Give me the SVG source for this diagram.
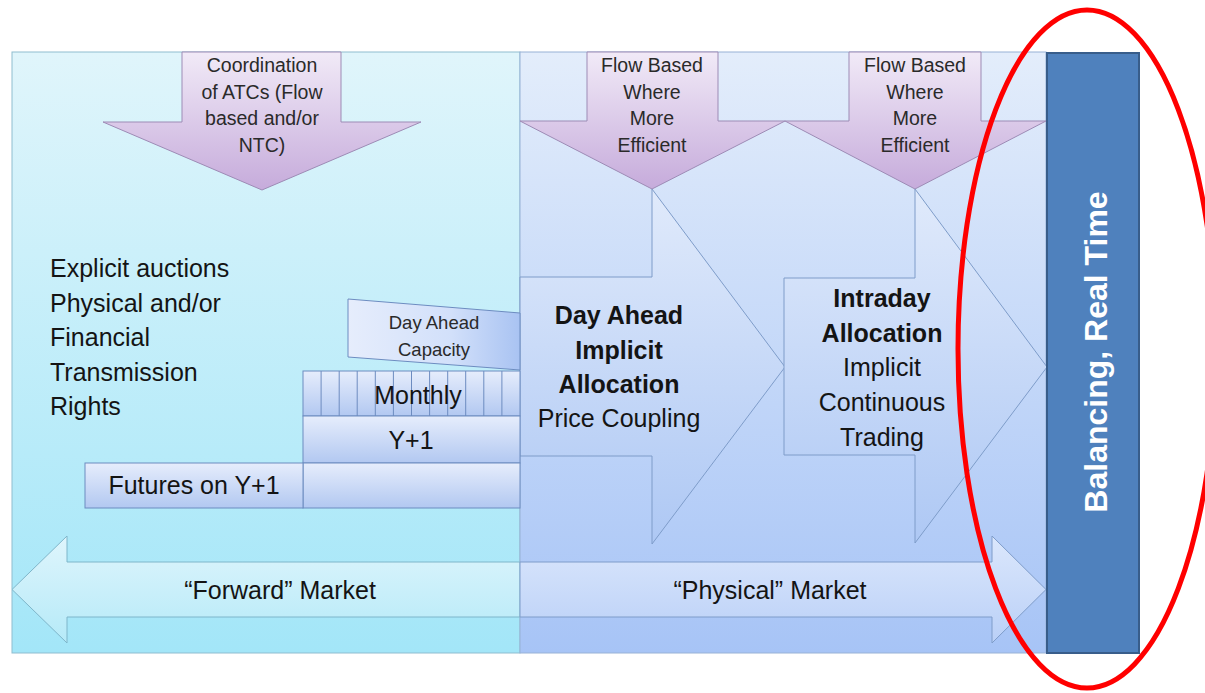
<svg xmlns="http://www.w3.org/2000/svg" width="1205" height="693" viewBox="0 0 1205 693">
<defs>
<linearGradient id="gLeft" x1="0" y1="0" x2="0" y2="1"><stop offset="0" stop-color="#e0f5fb"/><stop offset="1" stop-color="#a3e6f8"/></linearGradient>
<linearGradient id="gRight" x1="0" y1="0" x2="0" y2="1"><stop offset="0" stop-color="#e3edfb"/><stop offset="1" stop-color="#a7c4f6"/></linearGradient>
<linearGradient id="gArrow" x1="0" y1="0" x2="0" y2="1"><stop offset="0" stop-color="#e0eafb"/><stop offset="1" stop-color="#aec8f4"/></linearGradient>
<linearGradient id="gDown" x1="0" y1="0" x2="0" y2="1"><stop offset="0" stop-color="#f1eaf7"/><stop offset="1" stop-color="#c6abdb"/></linearGradient>
<linearGradient id="gBox" x1="0" y1="0" x2="0" y2="1"><stop offset="0" stop-color="#e6edfc"/><stop offset="1" stop-color="#b2c8f1"/></linearGradient>
<linearGradient id="gCap" x1="0" y1="0" x2="1" y2="0"><stop offset="0" stop-color="#e6edfc"/><stop offset="0.6" stop-color="#d2e0fa"/><stop offset="1" stop-color="#a9c3f2"/></linearGradient>
<linearGradient id="gFwd" x1="0" y1="0" x2="0" y2="1"><stop offset="0" stop-color="#dff5fc"/><stop offset="1" stop-color="#b5eaf8"/></linearGradient>
<linearGradient id="gPhys" x1="0" y1="0" x2="0" y2="1"><stop offset="0" stop-color="#dbe7fc"/><stop offset="1" stop-color="#bad0f7"/></linearGradient>
</defs>
<style>
text{font-family:"Liberation Sans",Arial,sans-serif;fill:#141414}
.big{font-size:25px}
.mid{font-size:19.5px;fill:#2a2a2a}
.sm{font-size:18.5px;fill:#2a2a2a}
.c{text-anchor:middle}
.b{font-weight:bold}
.arrow{fill:url(#gArrow);stroke:#7e9cc9;stroke-width:1}
.down{fill:url(#gDown);stroke:#9d8bb5;stroke-width:1}
.box{fill:url(#gBox);stroke:#6d8cc0;stroke-width:1}
.sep{stroke:#6d8cc0;stroke-width:1}
</style>

<g id="panel-forward">
<rect x="12" y="52" width="508" height="601" fill="url(#gLeft)" stroke="#8fbdd0" stroke-width="1"/>
</g>
<g id="panel-physical">
<rect x="520" y="52" width="526" height="601" fill="url(#gRight)" stroke="#98b2d6" stroke-width="1"/>
</g>

<g id="day-ahead-allocation">
<polygon class="arrow" points="520,277 652,277 652,189 785,367 652,544 652,456 520,456"/>
<text class="big c b" x="619" y="324">Day Ahead</text>
<text class="big c b" x="619" y="359">Implicit</text>
<text class="big c b" x="619" y="393">Allocation</text>
<text class="big c" x="619" y="427">Price Coupling</text>
</g>

<g id="intraday-allocation">
<polygon class="arrow" points="784,278 915,278 915,189 1047,367 915,543 915,455 784,455"/>
<text class="big c b" x="882" y="307">Intraday</text>
<text class="big c b" x="882" y="342">Allocation</text>
<text class="big c" x="882" y="376">Implicit</text>
<text class="big c" x="882" y="411">Continuous</text>
<text class="big c" x="882" y="446">Trading</text>
</g>

<g id="coordination-atc">
<polygon class="down" points="182,52 341,52 341,122 421,122 262,190 103,122 182,122"/>
<text class="mid c" x="262" y="72">Coordination</text>
<text class="mid c" x="262" y="99">of ATCs (Flow</text>
<text class="mid c" x="262" y="125">based and/or</text>
<text class="mid c" x="262" y="152">NTC)</text>
</g>

<g id="flow-based-1">
<polygon class="down" points="587,52 718,52 718,121 785,121 652,189 520,121 587,121"/>
<text class="mid c" x="652" y="72">Flow Based</text>
<text class="mid c" x="652" y="99">Where</text>
<text class="mid c" x="652" y="125">More</text>
<text class="mid c" x="652" y="152">Efficient</text>
</g>

<g id="flow-based-2">
<polygon class="down" points="849,52 981,52 981,121 1046,121 915,189 785,121 849,121"/>
<text class="mid c" x="915" y="72">Flow Based</text>
<text class="mid c" x="915" y="99">Where</text>
<text class="mid c" x="915" y="125">More</text>
<text class="mid c" x="915" y="152">Efficient</text>
</g>

<g id="explicit-auctions">
<text class="big" x="50" y="277">Explicit auctions</text>
<text class="big" x="50" y="311.5">Physical and/or</text>
<text class="big" x="50" y="346">Financial</text>
<text class="big" x="50" y="380.5">Transmission</text>
<text class="big" x="50" y="415">Rights</text>
</g>

<g id="day-ahead-capacity">
<polygon points="348,299 520,313 520,370 348,357" fill="url(#gCap)" stroke="#6d8cc0" stroke-width="1"/>
<text class="sm c" x="434" y="328.5">Day Ahead</text>
<text class="sm c" x="434" y="355.5">Capacity</text>
</g>

<g id="monthly">
<rect class="box" x="303" y="371" width="217" height="45"/>
<path class="sep" d="M321.1,371V416M339.2,371V416M357.2,371V416M375.3,371V416M393.4,371V416M411.5,371V416M429.6,371V416M447.7,371V416M465.7,371V416M483.8,371V416M501.9,371V416"/>
<text class="big c" x="418" y="404">Monthly</text>
</g>

<g id="year-plus-1">
<rect class="box" x="303" y="416" width="217" height="47"/>
<text class="big c" x="411" y="449">Y+1</text>
</g>

<g id="futures-base">
<rect class="box" x="303" y="463" width="217" height="45"/>
</g>

<g id="futures-y1">
<rect class="box" x="85" y="463" width="218" height="45"/>
<text class="big c" x="194" y="494">Futures on Y+1</text>
</g>

<g id="forward-market">
<polygon points="520,562 67,562 67,536 12,589.5 67,643 67,617 520,617" fill="url(#gFwd)" stroke="#7fb6ca" stroke-width="1"/>
<text class="big c" x="280" y="599">“Forward” Market</text>
</g>

<g id="physical-market">
<polygon points="520,562 992,562 992,536 1046,589.5 992,643 992,617 520,617" fill="url(#gPhys)" stroke="#7e9cc9" stroke-width="1"/>
<text class="big c" x="770" y="599">“Physical” Market</text>
</g>

<g id="balancing-real-time">
<rect x="1047" y="53" width="92" height="600" fill="#4f81bd" stroke="#385d8a" stroke-width="2"/>
<text class="b c" transform="translate(1107,352) rotate(-90)" x="0" y="0" style="font-size:32px;fill:#ffffff">Balancing, Real Time</text>
</g>

<g id="connectors">
<ellipse cx="1087" cy="349" rx="129" ry="339" fill="none" stroke="#ff0000" stroke-width="5"/>
</g>
</svg>
